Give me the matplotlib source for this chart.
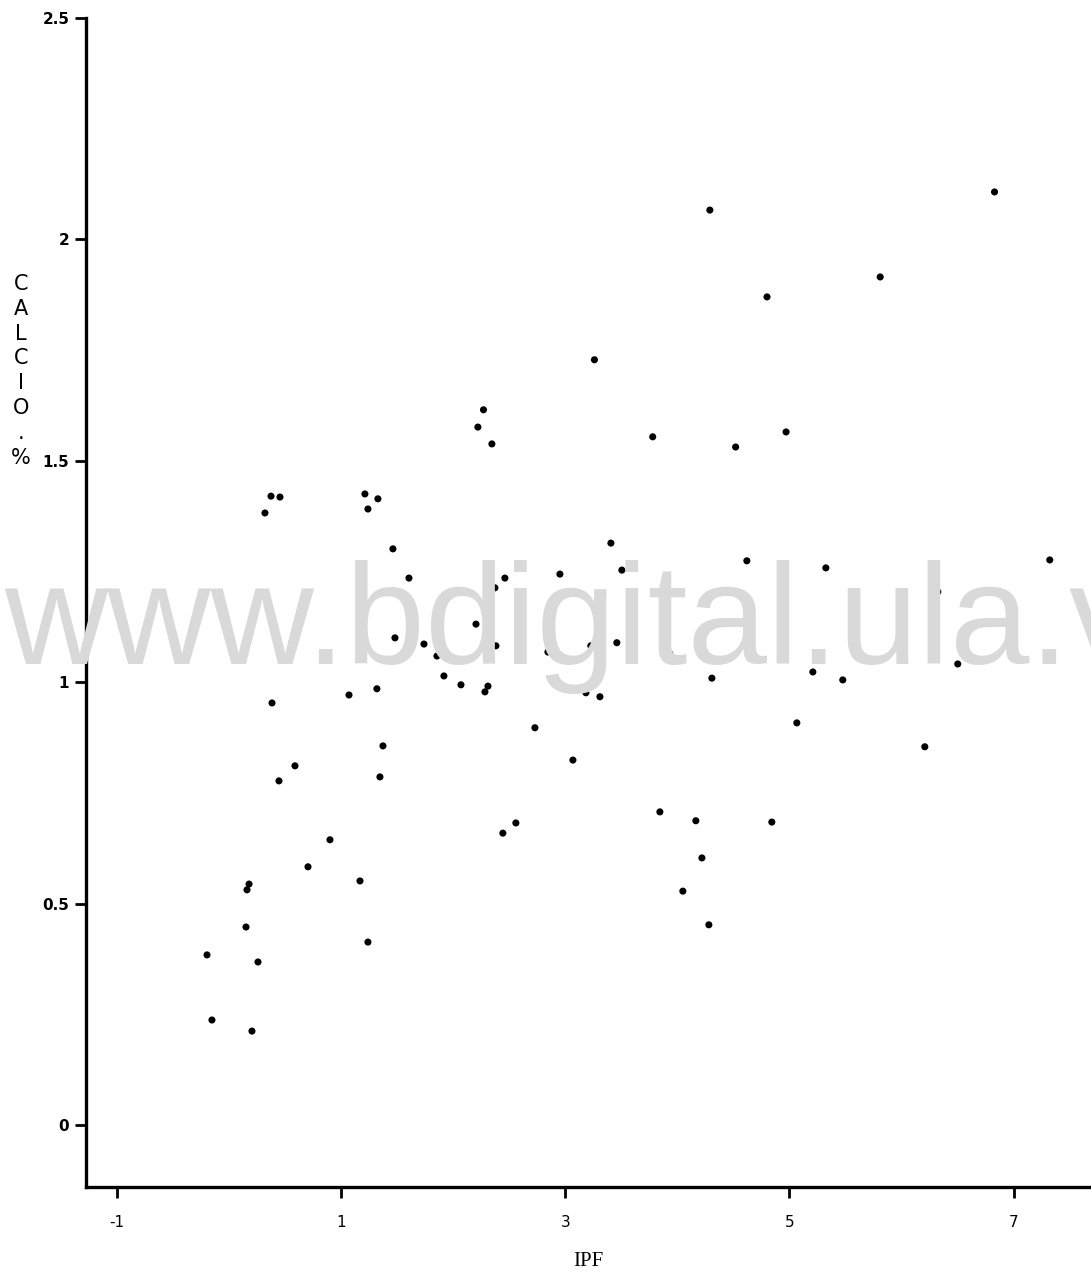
import matplotlib
matplotlib.use("Agg")
import matplotlib.pyplot as plt

# IPF vs calcio (%)
ipf = [6.83, 4.29, 5.81, 4.80, 3.26, 2.27, 2.22, 2.345, 3.78, 4.52,
       4.97, 0.374, 0.454, 0.320, 1.212, 1.328, 1.239, 1.462, 1.605, 1.480,
       3.407, 3.505, 2.952, 2.461, 2.372, 2.203, 3.318, 1.739, 1.855, 2.381,
       2.845, 3.228, 3.460, 3.603, 3.933, 3.309, 1.917, 2.069, 2.310, 2.283,
       3.184, 3.309, 2.729, 3.068, 3.844, 2.559, 2.443, 4.620, 5.325, 4.308,
       5.209, 5.476, 5.066, 4.165, 4.843, 4.219, 4.049, 4.281, 7.323, 6.324,
       6.502, 6.208, 0.864, 0.383, 1.070, 1.319, 1.373, 0.588, 0.445, 1.346,
       0.900, 0.704, 1.168, 0.178, 0.160, 0.151, -0.197, 0.258, 1.239, -0.153,
       0.204]
calcio = [2.107, 2.066, 1.915, 1.870, 1.728, 1.615, 1.576, 1.538, 1.554, 1.531,
          1.565, 1.420, 1.418, 1.382, 1.425, 1.414, 1.391, 1.301, 1.235, 1.100,
          1.314, 1.253, 1.244, 1.235, 1.213, 1.131, 1.143, 1.086, 1.059, 1.082,
          1.068, 1.082, 1.089, 1.061, 1.064, 1.030, 1.014, 0.994, 0.991, 0.978,
          0.976, 0.967, 0.897, 0.824, 0.707, 0.682, 0.659, 1.274, 1.258, 1.009,
          1.023, 1.005, 0.908, 0.687, 0.684, 0.603, 0.528, 0.452, 1.276, 1.204,
          1.041, 0.854, 1.052, 0.953, 0.971, 0.985, 0.856, 0.811, 0.777, 0.786,
          0.644, 0.583, 0.551, 0.544, 0.531, 0.447, 0.384, 0.368, 0.413, 0.237,
          0.212]

xticks = [-1, 1, 3, 5, 7]
yticks = [0, 0.5, 1, 1.5, 2, 2.5]
yticklabels = ["0", "0.5", "1", "1.5", "2", "2.5"]

fig = plt.figure(figsize=(10.91, 12.8), dpi=100)
ax = fig.add_axes([0.0788, 0.0727, 0.921, 0.9133])

# watermark of the scan site
fig.text(0.004, 0.481, "www.bdigital.ula.ve", fontsize=103, color="#d9d9d9",
         family="Liberation Sans", zorder=0)
ax.set_facecolor("none")

ax.scatter(ipf, calcio, s=26, color="black", edgecolors="none", zorder=3)

ax.set_xlim(-1.277, 7.689)
ax.set_ylim(-0.14, 2.5)
ax.spines["top"].set_visible(False)
ax.spines["right"].set_visible(False)
ax.spines["left"].set_linewidth(2.4)
ax.spines["bottom"].set_linewidth(2.4)

ax.set_xticks(xticks)
ax.set_xticklabels([str(v) for v in xticks], fontsize=11, family="DejaVu Sans Condensed")
ax.set_yticks(yticks)
ax.set_yticklabels(yticklabels, fontsize=11, fontweight="bold")
ax.tick_params(axis="both", direction="out", length=8, width=2)
ax.tick_params(axis="x", pad=12)
ax.tick_params(axis="y", pad=4)

ax.set_xlabel("IPF", fontsize=15, family="Liberation Serif", labelpad=16)
fig.text(0.019, 0.786, "\n".join("CALCIO.%"), fontsize=15, va="top",
         ha="center", linespacing=1.3)

plt.savefig("out.png", dpi=100)
